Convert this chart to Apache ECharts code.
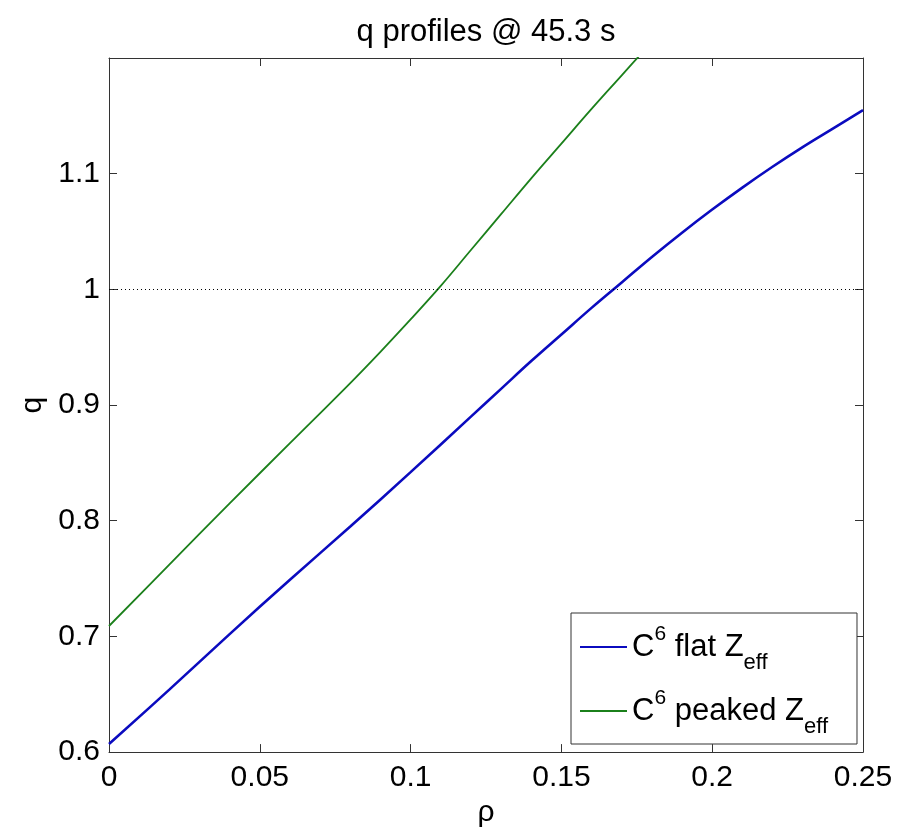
<!DOCTYPE html>
<html>
<head>
<meta charset="utf-8">
<script src="https://cdn.jsdelivr.net/npm/echarts@6/dist/echarts.min.js"></script>
<style>
html,body{margin:0;padding:0;background:#fff;}
#chart{width:899px;height:833px;}
</style>
</head>
<body>
<div id="chart"></div>
<script>
// ---- data ----
const titleText = 'q profiles @ 45.3 s';
const xName = 'ρ';
const yName = 'q';
const xTicks = [0, 0.05, 0.1, 0.15, 0.2, 0.25];
const yTicks = [0.6, 0.7, 0.8, 0.9, 1, 1.1];

const rhoFlat = [0, 0.02, 0.04, 0.06, 0.08, 0.10, 0.12, 0.13, 0.14, 0.15, 0.16, 0.17, 0.18, 0.19, 0.20, 0.21, 0.22, 0.23, 0.24, 0.25];
const qFlat   = [0.607, 0.654, 0.702, 0.749, 0.795, 0.842, 0.890, 0.914, 0.938, 0.961, 0.984, 1.006, 1.028, 1.049, 1.069, 1.088, 1.106, 1.123, 1.139, 1.155];

const rhoPeaked = [0, 0.02, 0.04, 0.06, 0.08, 0.09, 0.10, 0.11, 0.12, 0.13, 0.14, 0.15, 0.16, 0.17, 0.18];
const qPeaked   = [0.709, 0.762, 0.815, 0.867, 0.919, 0.946, 0.974, 1.003, 1.034, 1.065, 1.096, 1.126, 1.156, 1.185, 1.214];

const refLine = 1;
const seriesNames = ['flat', 'peaked'];
const legendLabels = {flat: ' flat Z', peaked: ' peaked Z'};
const colors = {flat: '#0b0bbf', peaked: '#1b801b'};

const FONT = 'Liberation Sans';
const chart = echarts.init(document.getElementById('chart'), null, {renderer: 'canvas'});

const zip = (a, b) => a.map((v, i) => [v, b[i]]);
const fmtY = v => (Math.abs(v - 1.2) < 1e-9 ? '' : String(+v.toFixed(2)));
const fmtX = v => String(+v.toFixed(3));

const axisLineStyle = {color: '#333', width: 1};
const option = {
  animation: false,
  backgroundColor: '#fff',
  graphic: [{
    type: 'text', x: 486, y: 32,
    style: {text: titleText, fill: '#000', font: '31px "Liberation Sans"', textAlign: 'center', textVerticalAlign: 'middle'}
  }],
  grid: {left: 109, right: 36, top: 58, bottom: 80, containLabel: false},
  xAxis: [{
    type: 'value', min: xTicks[0], max: xTicks[xTicks.length - 1], interval: 0.05,
    position: 'bottom',
    name: xName, nameLocation: 'middle', nameGap: 36,
    nameTextStyle: {fontFamily: FONT, fontSize: 30, color: '#000'},
    axisLine: {show: true, onZero: false, lineStyle: axisLineStyle},
    axisTick: {show: true, inside: true, length: 8, lineStyle: axisLineStyle},
    axisLabel: {show: true, margin: 11, fontFamily: FONT, fontSize: 30, color: '#000', formatter: fmtX},
    splitLine: {show: false}
  }, {
    type: 'value', min: xTicks[0], max: xTicks[xTicks.length - 1], interval: 0.05,
    position: 'top',
    axisLine: {show: true, onZero: false, lineStyle: axisLineStyle},
    axisTick: {show: true, inside: true, length: 8, lineStyle: axisLineStyle},
    axisLabel: {show: false},
    splitLine: {show: false}
  }],
  yAxis: [{
    type: 'value', min: 0.6, max: 1.2, interval: 0.1,
    position: 'left',
    name: yName, nameLocation: 'middle', nameGap: 60, nameRotate: 90,
    nameTextStyle: {fontFamily: FONT, fontSize: 30, color: '#000'},
    axisLine: {show: true, onZero: false, lineStyle: axisLineStyle},
    axisTick: {show: true, inside: true, length: 8, lineStyle: axisLineStyle},
    axisLabel: {show: true, margin: 9, fontFamily: FONT, fontSize: 30, color: '#000', formatter: fmtY},
    splitLine: {show: false}
  }, {
    type: 'value', min: 0.6, max: 1.2, interval: 0.1,
    position: 'right',
    axisLine: {show: true, onZero: false, lineStyle: axisLineStyle},
    axisTick: {show: true, inside: true, length: 8, lineStyle: axisLineStyle},
    axisLabel: {show: false},
    splitLine: {show: false}
  }],
  legend: {
    show: true, orient: 'vertical', left: 571, top: 613,
    padding: [7, 29, 6, 9], itemGap: 10, itemWidth: 47, itemHeight: 2,
    backgroundColor: '#fff', borderColor: '#333', borderWidth: 1,
    data: seriesNames.map(n => ({name: n, icon: 'path://M0,0H47V2H0Z', itemStyle: {color: colors[n]}})),
    formatter: name => '{n|C}{sup|6}{n|' + legendLabels[name] + '}{sub|eff}',
    textStyle: {
      fontFamily: FONT, fontSize: 31, color: '#000',
      rich: {
        n: {fontFamily: FONT, fontSize: 31, color: '#000', lineHeight: 56},
        sup: {fontFamily: FONT, fontSize: 21, color: '#000', lineHeight: 22, padding: [0, 0, 26, 0]},
        sub: {fontFamily: FONT, fontSize: 22, color: '#000', lineHeight: 22, padding: [32, 0, 0, 0]}
      }
    }
  },
  series: [{
    name: 'flat', type: 'line', xAxisIndex: 0, yAxisIndex: 0,
    data: zip(rhoFlat, qFlat), smooth: 0.4, symbol: 'none', clip: true,
    lineStyle: {color: colors.flat, width: 2.6}, itemStyle: {color: colors.flat},
    markLine: {
      silent: true, symbol: ['none', 'none'], label: {show: false},
      lineStyle: {color: '#000', type: [1, 3], width: 1},
      data: [{yAxis: refLine}]
    },
    z: 3
  }, {
    name: 'peaked', type: 'line', xAxisIndex: 0, yAxisIndex: 0,
    data: zip(rhoPeaked, qPeaked), smooth: 0.4, symbol: 'none', clip: true,
    lineStyle: {color: colors.peaked, width: 1.8}, itemStyle: {color: colors.peaked},
    z: 2
  }]
};
chart.setOption(option);
</script>
</body>
</html>
